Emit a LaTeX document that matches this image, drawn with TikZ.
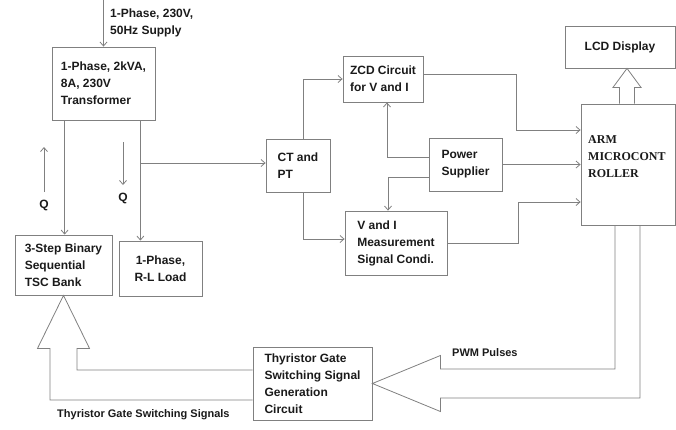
\documentclass[tikz,border=0pt]{standalone}
\usepackage{fontspec}
\setmainfont{Liberation Sans}
\newfontfamily\armfont{Liberation Serif}
\usetikzlibrary{arrows.meta,calc}
\definecolor{ln}{HTML}{808080}
\definecolor{tx}{HTML}{1A1A1A}
\begin{document}
\begin{tikzpicture}[x=1pt,y=-1pt,
 box/.style={draw=ln, line width=0.8pt, align=left, inner sep=0pt, text=tx, font=\fontsize{12}{17}\selectfont\bfseries},
 arr/.style={draw=ln, line width=0.8pt, -{Straight Barb[length=4pt,width=7pt]}},
 hol/.style={draw=ln, line width=0.8pt, line join=miter},
 lab/.style={text=tx, font=\fontsize{11}{17}\selectfont\bfseries, inner sep=0pt, align=left},
]
\useasboundingbox (0,0) rectangle (676,429);

% boxes
\node[box, minimum width=103pt, minimum height=73pt] (trans) at (103.5,83.5) {1-Phase, 2kVA,\\8A, 230V\\Transformer};
\node[box, minimum width=97pt, minimum height=60pt] (tsc) at (63.5,265) {3-Step Binary\\Sequential\\TSC Bank};
\node[box, align=center, minimum width=83pt, minimum height=55pt] (load) at (160.5,268.5) {1-Phase,\\R-L Load};
\node[box, minimum width=64pt, minimum height=53pt] (ct) at (298,165.5) {CT and\\PT};
\node[box, minimum width=80pt, minimum height=46pt] (zcd) at (383,79) {ZCD Circuit\\for V and I};
\node[box, minimum width=73pt, minimum height=53pt] (power) at (465.5,164.5) {Power\\Supplier};
\node[box, minimum width=102pt, minimum height=64pt] (vi) at (396,243) {V and I\\Measurement\\Signal Condi.};
\node[box, minimum width=94pt, minimum height=121pt] (arm) at (628,164.5) {};
\node[lab, anchor=west, font=\armfont\fontsize{12}{17}\selectfont\bfseries] (armtxt) at (588,157) {ARM\\MICROCONT\\ROLLER};
\node[box, align=center, minimum width=110pt, minimum height=42pt] (lcd) at (620,47) {LCD Display};
\node[box, minimum width=119pt, minimum height=73pt] (thy) at (312.5,383.5) {Thyristor Gate\\Switching Signal\\Generation\\Circuit};

% labels
\node[lab, anchor=west, font=\fontsize{12}{17}\selectfont\bfseries] (supply) at (110,23) {1-Phase, 230V,\\50Hz Supply};
\node[lab, font=\fontsize{12}{17}\selectfont\bfseries] (q1) at (44,205) {Q};
\node[lab, font=\fontsize{12}{17}\selectfont\bfseries] (q2) at (123,198) {Q};
\node[lab, anchor=west] (pwm) at (452,353) {PWM Pulses};
\node[lab, anchor=west] (tgs) at (57,415) {Thyristor Gate Switching Signals};

% supply
\coordinate (src) at (103.5,0);
\draw[arr] (src) -- (trans.north);

% transformer to loads
\coordinate (t1) at ($(trans.south west)+(13,0)$);
\coordinate (t2) at ($(trans.south east)+(-15,0)$);
\draw[arr] (t1) -- (t1 |- tsc.north);
\draw[arr] (t2) -- (t2 |- load.north);
\draw[arr] ($(t2 |- ct.west)+(0,-2.5)$) -- ($(ct.west)+(0,-2.5)$);

% Q arrows
\coordinate (q1a) at (44,192);
\coordinate (q1b) at (44,147);
\draw[arr] (q1a) -- (q1b);
\coordinate (q2a) at (123,142);
\coordinate (q2b) at (123,185);
\draw[arr] (q2a) -- (q2b);

% CT/PT outputs
\draw[arr] ($(ct.north)+(5,0)$) |- (zcd.west);
\draw[arr] ($(ct.south)+(5,0)$) |- ($(vi.west)+(0,-4)$);

% power supplier
\draw[arr] ($(power.west)+(0,-7)$) -| ($(zcd.south)+(4,0)$);
\draw[arr] ($(power.west)+(0,13)$) -| ($(vi.north)+(-8,0)$);
\draw[arr] (power.east) -- (power.east -| arm.west);

% to ARM
\coordinate (j1) at (516,130);
\coordinate (j2) at (518,202);
\draw[arr] ($(zcd.east)+(0,-5)$) -| (j1) -- (j1 -| arm.west);
\draw[arr] (vi.east) -| (j2) -- (j2 -| arm.west);

% hollow arrow ARM -> LCD
\coordinate (lt) at ($(lcd.south -| arm.north)+(-1,0)$);
\draw[hol] ($(lt |- arm.north)+(-7.5,0)$) -- ($(lt)+(-7.5,19)$) -- ($(lt)+(-14,19)$) -- (lt) -- ($(lt)+(14,19)$) -- ($(lt)+(7.5,19)$) -- ($(lt |- arm.north)+(7.5,0)$);

% hollow arrow PWM
\coordinate (pt) at (thy.east);
\draw[hol] ($(arm.south)+(-13,0)$) |- ($(pt)+(68,-14.5)$) -- ($(pt)+(68,-28)$) -- (pt) -- ($(pt)+(68,28)$) -- ($(pt)+(68,14.5)$) -| ($(arm.south)+(12,0)$);

% hollow arrow to TSC
\coordinate (tt) at (tsc.south);
\draw[hol] ($(thy.west)+(0,-13.5)$) -| ($(tt)+(13.5,53)$) -- ($(tt)+(26,53)$) -- (tt) -- ($(tt)+(-26,53)$) -- ($(tt)+(-13.5,53)$) |- ($(thy.west)+(0,16.5)$);
\end{tikzpicture}
\end{document}
